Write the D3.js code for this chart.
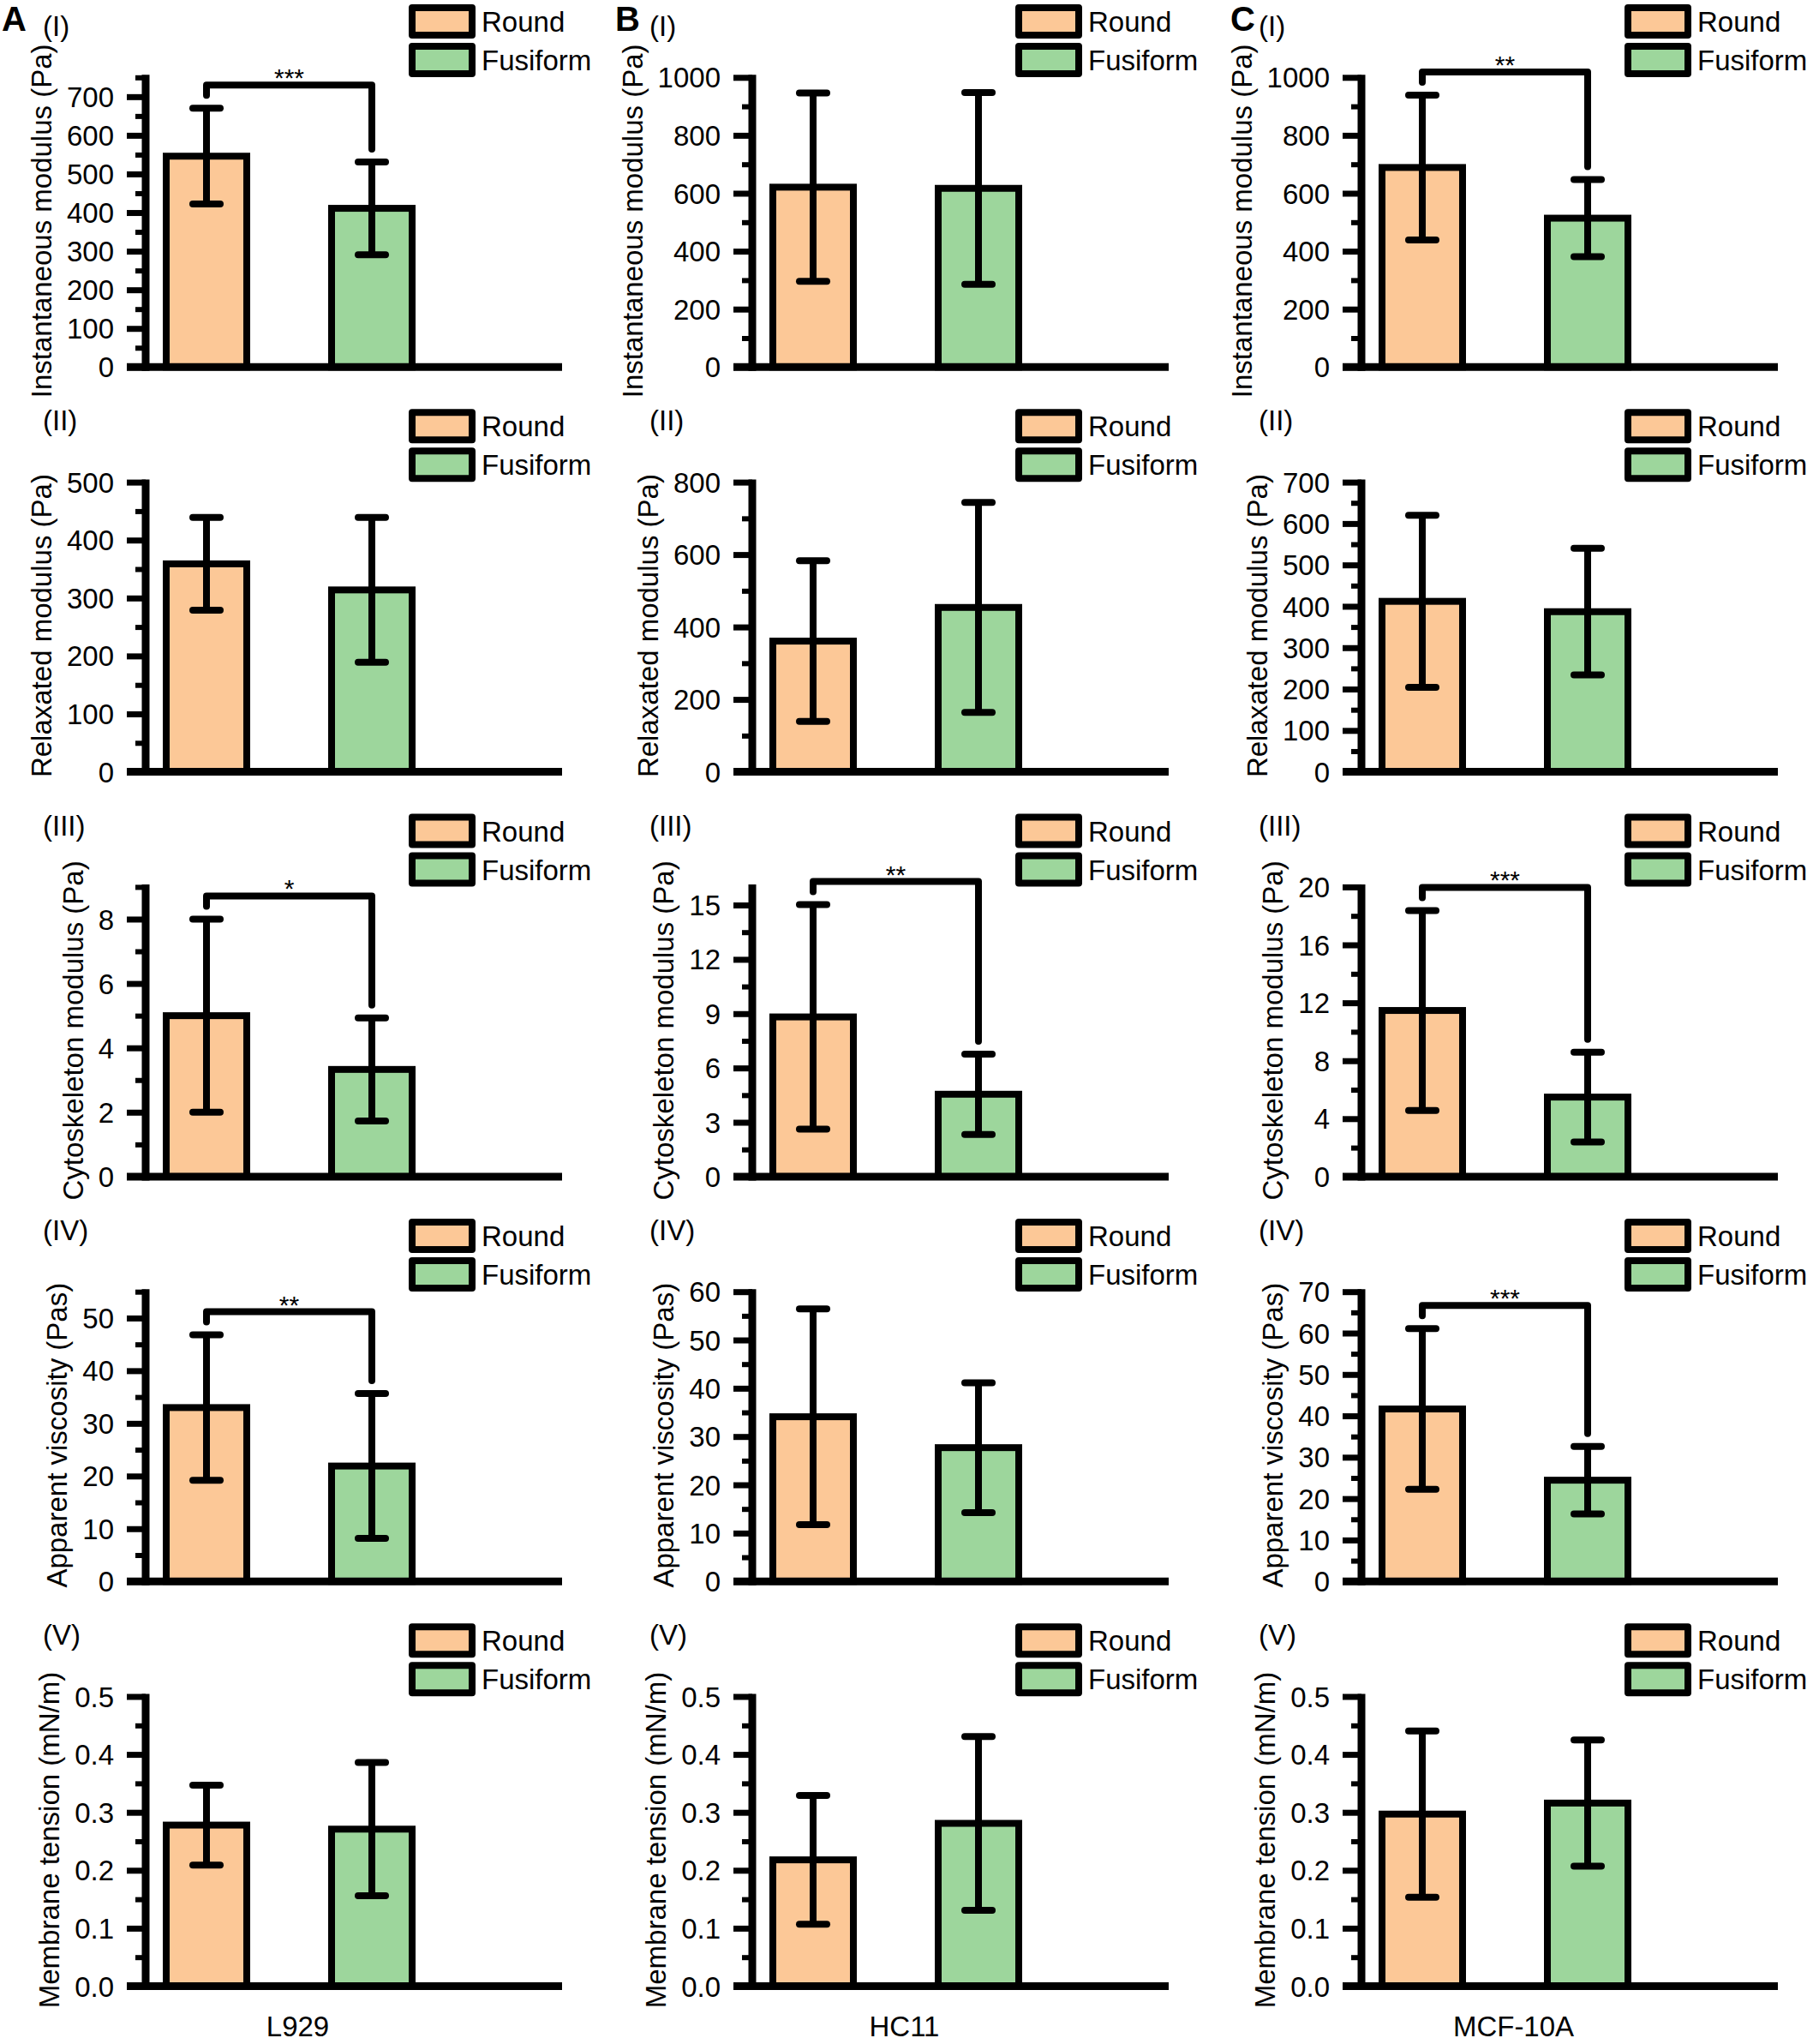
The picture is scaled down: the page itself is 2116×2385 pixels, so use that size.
<!DOCTYPE html>
<html lang="en">
<head>
    <meta charset="UTF-8">
    <title>Round vs Fusiform cell mechanics</title>
    <script src="https://cdnjs.cloudflare.com/ajax/libs/d3/7.8.5/d3.min.js"></script>
    <style>
        body { margin: 0; padding: 0; background: #fff; }
        svg { display: block; font-family: "Liberation Sans", Arial, sans-serif; }
    </style>
</head>
<body>
    <div id="chart"></div>

    <script>
        // Data
        const categories = ["Round", "Fusiform"];
        const cellLines = ["L929", "HC11", "MCF-10A"];
        const panelLetters = ["A", "B", "C"];
        const rowLabels = ["(I)", "(II)", "(III)", "(IV)", "(V)"];
        const measures = [
            "Instantaneous modulus (Pa)",
            "Relaxated modulus (Pa)",
            "Cytoskeleton modulus (Pa)",
            "Apparent viscosity (Pas)",
            "Membrane tension (mN/m)"
        ];

        // mean [Round, Fusiform] per measure, one array per cell line
        const meanL929 = [[546, 411], [359, 314], [5.0, 3.33], [33.0, 21.9], [0.278, 0.271]];
        const sdL929   = [[124, 120], [80, 125], [3.0, 1.6], [13.8, 13.75], [0.069, 0.115]];
        const meanHC11 = [[621, 617], [361, 454], [8.82, 4.55], [34.1, 27.7], [0.218, 0.281]];
        const sdHC11   = [[325, 331], [222, 290], [6.2, 2.22], [22.35, 13.45], [0.111, 0.150]];
        const meanMCF  = [[689, 514], [412, 387], [11.47, 5.49], [41.66, 24.45], [0.297, 0.316]];
        const sdMCF    = [[250, 133], [208, 153], [6.9, 3.1], [19.4, 8.15], [0.1435, 0.109]];

        // axis maximum and major tick step per measure
        const yMaxL929 = [750, 500, 9, 55, 0.5];
        const yMaxHC11 = [1000, 800, 16, 60, 0.5];
        const yMaxMCF  = [1000, 700, 20, 70, 0.5];
        const stepL929 = [100, 100, 2, 10, 0.1];
        const stepHC11 = [200, 200, 3, 10, 0.1];
        const stepMCF  = [200, 100, 4, 10, 0.1];

        // significance between Round and Fusiform
        const sigL929 = ["***", "", "*", "**", ""];
        const sigHC11 = ["", "", "**", "", ""];
        const sigMCF  = ["**", "", "***", "***", ""];

        const means = [meanL929, meanHC11, meanMCF];
        const sds = [sdL929, sdHC11, sdMCF];
        const yMaxes = [yMaxL929, yMaxHC11, yMaxMCF];
        const steps = [stepL929, stepHC11, stepMCF];
        const sigs = [sigL929, sigHC11, sigMCF];

        const colors = { "Round": "#fcc897", "Fusiform": "#9dd69c" };

        // Layout
        const width = 2116, height = 2385;
        const colX = [0, 708, 1419];
        const letterX = [2, 10, 17];
        const axisOff = 170;
        const rowBase0 = 428.3, rowStep = 472.3;
        const plotH = 338, axisLen = 486;
        const lw = 8;
        const fontSize = 33;

        const svg = d3.select("#chart")
            .append("svg")
            .attr("width", width)
            .attr("height", height);

        svg.append("rect").attr("width", width).attr("height", height).attr("fill", "#fff");

        const x = d3.scalePoint().domain(categories).range([71, 264]);

        cellLines.forEach((cell, c) => {
            // panel letter
            svg.append("text")
                .attr("x", colX[c] + letterX[c])
                .attr("y", 36)
                .style("font-size", "40px")
                .style("font-weight", "bold")
                .text(panelLetters[c]);

            // cell line label under the last row
            svg.append("text")
                .attr("x", colX[c] + axisOff + (x("Round") + x("Fusiform")) / 2 + 10)
                .attr("y", 2376)
                .attr("text-anchor", "middle")
                .style("font-size", fontSize + "px")
                .text(cell);

            measures.forEach((measure, r) => {
                const rowTop = r * rowStep;
                const base = rowBase0 + r * rowStep;
                const yMax = yMaxes[c][r];
                const step = steps[c][r];
                const y = d3.scaleLinear().domain([0, yMax]).range([0, -plotH]);

                // row label
                svg.append("text")
                    .attr("x", colX[c] + 50)
                    .attr("y", r === 0 ? 42 : rowTop + 30)
                    .style("font-size", fontSize + "px")
                    .text(rowLabels[r]);

                const g = svg.append("g")
                    .attr("transform", `translate(${colX[c] + axisOff},${base})`);

                const nMajor = Math.floor(yMax / step + 1e-9);
                const majors = d3.range(0, nMajor + 1).map(i => +(i * step).toFixed(6));
                const minors = d3.range(0, nMajor + 1).map(i => +((i + 0.5) * step).toFixed(6))
                    .filter(v => v <= yMax + 1e-9);
                const fmt = step < 1 ? d3.format(".1f") : d3.format("d");

                // minor ticks
                const minorAxis = g.append("g")
                    .call(d3.axisLeft(y).tickValues(minors).tickSize(12).tickFormat(""));
                minorAxis.select(".domain").remove();
                minorAxis.selectAll("line").attr("stroke", "#000").attr("stroke-width", 6);

                // major ticks
                const majorAxis = g.append("g")
                    .call(d3.axisLeft(y).tickValues(majors).tickSize(22).tickPadding(15).tickFormat(fmt));
                majorAxis.select(".domain").remove();
                majorAxis.selectAll("line").attr("stroke", "#000").attr("stroke-width", 7);
                majorAxis.selectAll("text")
                    .attr("fill", "#000")
                    .attr("dy", "0.35em")
                    .style("font-size", fontSize + "px")
                    .style("font-family", "'Liberation Sans', Arial, sans-serif");

                // axis title, placed left of the tick labels
                const lb = majorAxis.node().getBBox();
                g.append("text")
                    .attr("transform", `translate(${lb.x - 18},${(y(yMax) - 3) / 2}) rotate(-90)`)
                    .attr("text-anchor", "middle")
                    .style("font-size", fontSize + "px")
                    .text(measure);

                // bars
                const rows = categories.map((cat, i) => ({
                    cat: cat,
                    mean: means[c][r][i],
                    sd: sds[c][r][i]
                }));

                g.selectAll("rect.bar")
                    .data(rows)
                    .enter().append("rect")
                    .attr("class", "bar")
                    .attr("x", d => x(d.cat) - 47)
                    .attr("y", d => y(d.mean))
                    .attr("width", 94)
                    .attr("height", d => -y(d.mean))
                    .attr("fill", d => colors[d.cat])
                    .attr("stroke", "#000")
                    .attr("stroke-width", lw);

                // error bars
                const eb = g.selectAll("g.err")
                    .data(rows)
                    .enter().append("g")
                    .attr("class", "err")
                    .attr("stroke", "#000")
                    .attr("stroke-width", lw);
                eb.append("line")
                    .attr("x1", d => x(d.cat)).attr("x2", d => x(d.cat))
                    .attr("y1", d => y(d.mean - d.sd)).attr("y2", d => y(d.mean + d.sd));
                eb.selectAll("line.cap")
                    .data(d => [d.mean - d.sd, d.mean + d.sd].map(v => ({ cx: x(d.cat), v: v })))
                    .enter().append("line")
                    .attr("class", "cap")
                    .attr("stroke-linecap", "round")
                    .attr("x1", d => d.cx - 16).attr("x2", d => d.cx + 16)
                    .attr("y1", d => y(d.v)).attr("y2", d => y(d.v));

                // axis lines
                g.append("line")
                    .attr("x1", -22).attr("x2", axisLen)
                    .attr("y1", 0).attr("y2", 0)
                    .attr("stroke", "#000").attr("stroke-width", 9);
                g.append("line")
                    .attr("x1", 0).attr("x2", 0)
                    .attr("y1", 4.5).attr("y2", y(yMax) - 3)
                    .attr("stroke", "#000").attr("stroke-width", 9);

                // significance bracket
                const sig = sigs[c][r];
                if (sig) {
                    const tops = rows.map(d => y(d.mean + d.sd));
                    const by = Math.min(...tops) - 27;
                    const x0 = x("Round"), x1 = x("Fusiform");
                    g.append("path")
                        .attr("d", `M${x0},${tops[0] - 15}V${by}H${x1}V${tops[1] - 15}`)
                        .attr("fill", "none")
                        .attr("stroke", "#000")
                        .attr("stroke-width", lw)
                        .attr("stroke-linecap", "round")
                        .attr("stroke-linejoin", "round");
                    g.append("text")
                        .attr("x", (x0 + x1) / 2)
                        .attr("y", by + 2)
                        .attr("text-anchor", "middle")
                        .style("font-size", "30px")
                        .text(sig);
                }

                // legend
                const leg = svg.append("g")
                    .attr("transform", `translate(${colX[c] + 481},${rowTop})`);
                categories.forEach((cat, i) => {
                    leg.append("rect")
                        .attr("x", 0).attr("y", 9 + i * 45)
                        .attr("width", 70).attr("height", 32)
                        .attr("fill", colors[cat])
                        .attr("stroke", "#000")
                        .attr("stroke-width", lw)
                        .attr("stroke-linejoin", "round");
                    leg.append("text")
                        .attr("x", 81).attr("y", 37 + i * 45)
                        .style("font-size", fontSize + "px")
                        .text(cat);
                });
            });
        });
    </script>
</body>
</html>
